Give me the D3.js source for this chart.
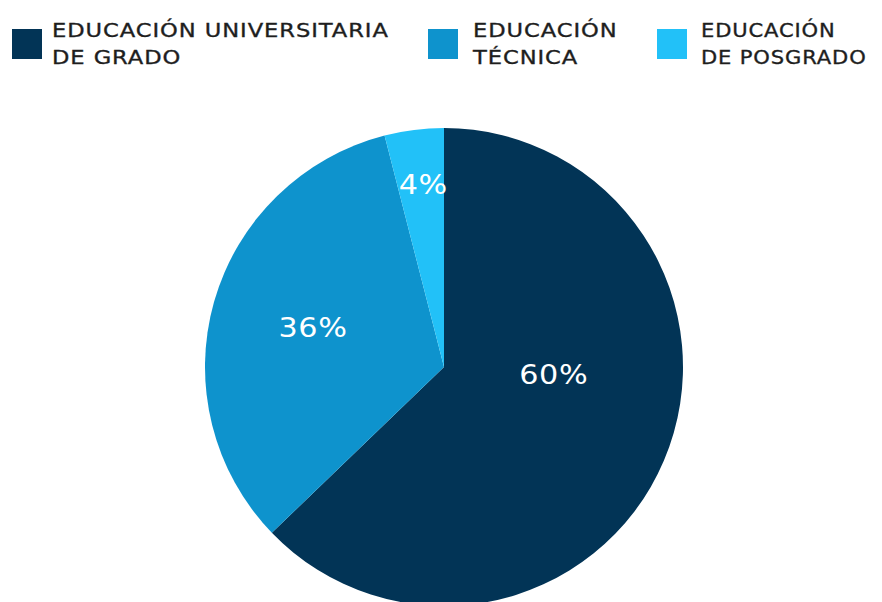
<!DOCTYPE html>
<html>
<head>
<meta charset="utf-8">
<script src="https://cdn.jsdelivr.net/npm/d3@7"></script>
<style>
  body { margin: 0; background: #ffffff; }
  svg { display: block; }
</style>
</head>
<body>
<div id="chart"></div>
<script>
// categories (legend lines) and values
var categories = [
    ["EDUCACIÓN UNIVERSITARIA", "DE GRADO"],
    ["EDUCACIÓN", "TÉCNICA"],
    ["EDUCACIÓN", "DE POSGRADO"]
];
// slice sizes as drawn in the picture (the printed labels are rounded differently)
var sliceValues = [62.8, 33.2, 4.0];
var sliceLabels = ["60%", "36%", "4%"];
var colors = ["#023456", "#0e93cd", "#22c1f8"];

var width = 882, height = 602;
var cx = 444, cy = 367, radius = 239;

// label placement: angle (deg, clockwise from top) and distance from centre
var labelAngle = [94, 287, 353.5];
var labelDist = [110, 137, 184];

// legend placement
var legendX = [12, 428, 657];
var textGap = [10, 15, 14];
var textStretch = [1.16, 1.16, 1.08];
var legendY = 29;
var box = 30;

var svg = d3.select("#chart")
    .append("svg")
    .attr("width", width)
    .attr("height", height);

var pie = d3.pie()
    .sort(null)
    .value(function (d) { return d; });

var arc = d3.arc()
    .innerRadius(0)
    .outerRadius(radius);

var g = svg.append("g")
    .attr("transform", "translate(" + cx + "," + cy + ")");

var arcs = pie(sliceValues);

g.selectAll("path")
    .data(arcs)
    .enter()
    .append("path")
    .attr("d", arc)
    .attr("fill", function (d, i) { return colors[i]; });

// slice labels (font is a bit narrower than the original, so stretch it)
g.selectAll("text.lbl")
    .data(sliceLabels)
    .enter()
    .append("text")
    .attr("class", "lbl")
    .attr("transform", function (d, i) {
        var a = labelAngle[i] * Math.PI / 180;
        return "translate(" + (Math.sin(a) * labelDist[i]) + "," + (-Math.cos(a) * labelDist[i]) + ") scale(1.12,1)";
    })
    .attr("dy", "0.36em")
    .attr("text-anchor", "middle")
    .attr("fill", "#ffffff")
    .style("font-family", "'DejaVu Sans', sans-serif")
    .style("font-size", "27px")
    .style("letter-spacing", "0.5px")
    .text(function (d) { return d; });

// legend
var legend = svg.selectAll("g.legend")
    .data(categories)
    .enter()
    .append("g")
    .attr("class", "legend")
    .attr("transform", function (d, i) { return "translate(" + legendX[i] + "," + legendY + ")"; });

legend.append("rect")
    .attr("width", box)
    .attr("height", box)
    .attr("fill", function (d, i) { return colors[i]; });

// a thin stroke gives the medium weight of the original lettering
var legendText = legend.append("text")
    .attr("transform", function (d, i) {
        return "translate(" + (box + textGap[i]) + ",0) scale(" + textStretch[i] + ",1)";
    })
    .attr("fill", "#1e1e1e")
    .attr("stroke", "#1e1e1e")
    .attr("stroke-width", 0.35)
    .style("font-family", "'DejaVu Sans', sans-serif")
    .style("font-size", "19.5px")
    .style("letter-spacing", "0.8px");

legendText.selectAll("tspan")
    .data(function (d) { return d; })
    .enter()
    .append("tspan")
    .attr("x", 0)
    .attr("y", function (d, i) { return 8 + i * 27; })
    .text(function (d) { return d; });
</script>
</body>
</html>
